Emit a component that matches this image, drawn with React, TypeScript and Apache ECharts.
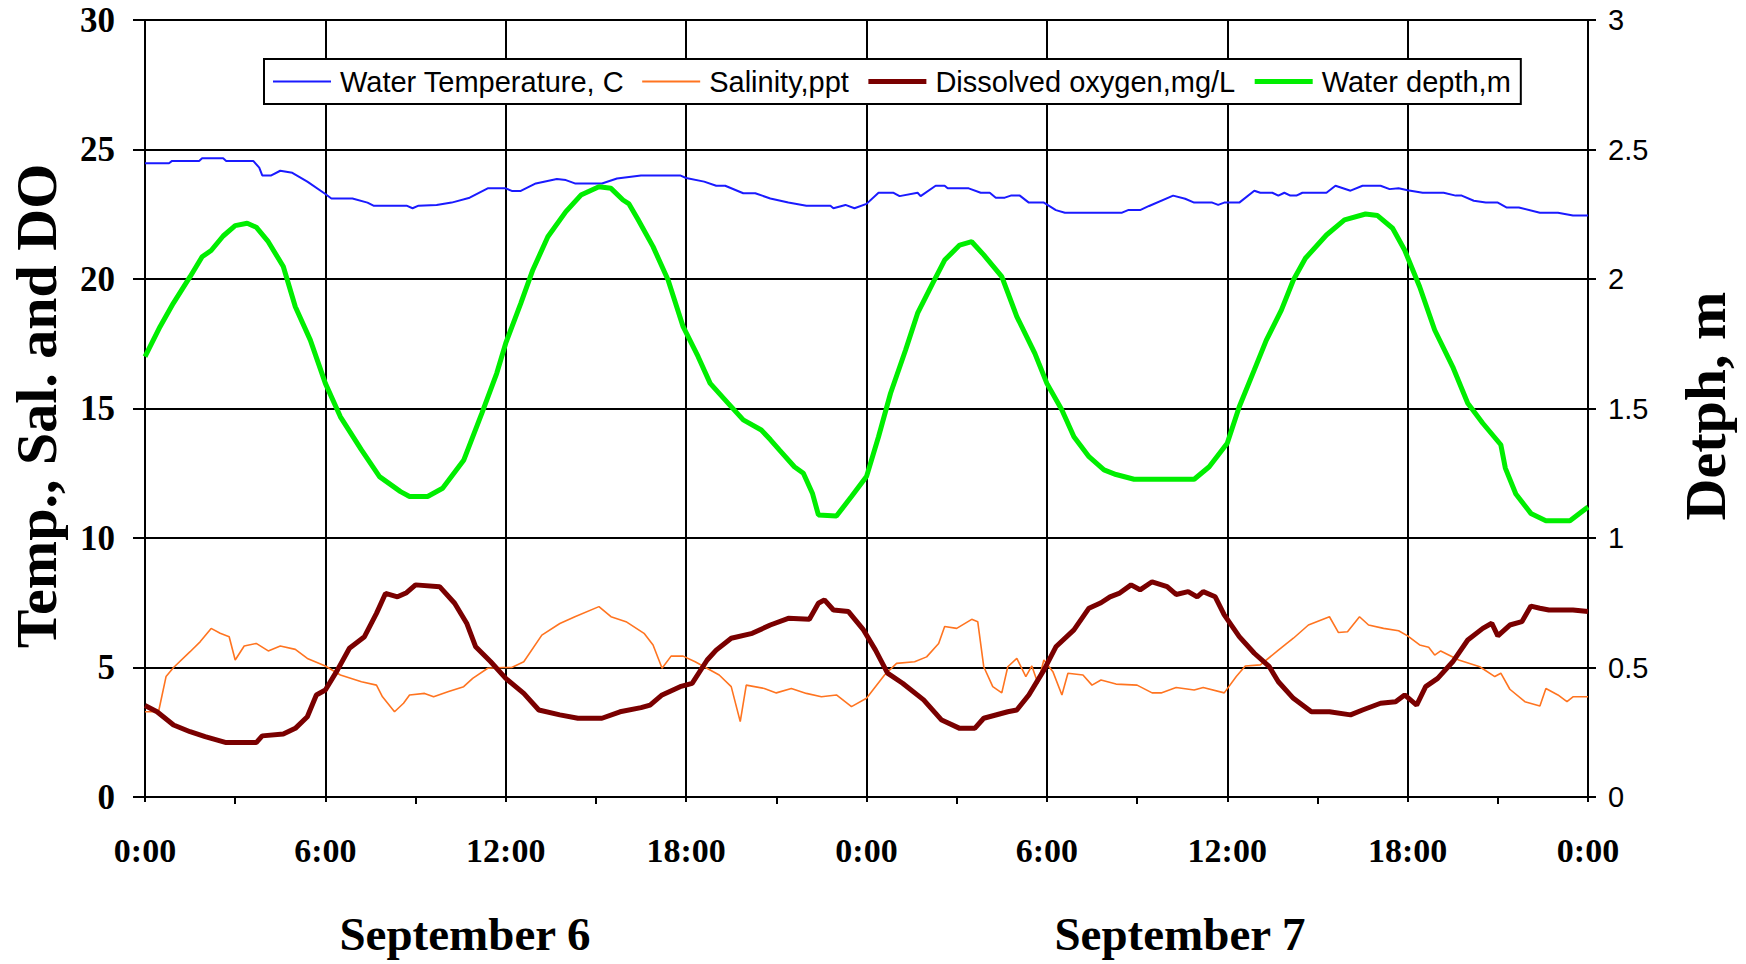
import React, { useEffect, useRef } from "react";
import * as echarts from "echarts";

const tempData: number[][] = [[0,24.47],[0.8,24.47],[0.9,24.56],[1.8,24.56],[1.9,24.66],[2.6,24.66],[2.7,24.56],[3.6,24.56],[3.8,24.3],[3.9,24.0],[4.2,24.0],[4.5,24.18],[4.9,24.1],[5.4,23.76],[6.0,23.28],[6.2,23.11],[6.9,23.11],[7.4,22.95],[7.6,22.83],[8.7,22.83],[8.9,22.73],[9.1,22.83],[9.7,22.86],[10.2,22.95],[10.8,23.14],[11.4,23.5],[12.0,23.5],[12.2,23.4],[12.5,23.4],[13.0,23.69],[13.7,23.86],[14.0,23.82],[14.3,23.69],[15.2,23.69],[15.7,23.88],[16.5,24.0],[17.8,24.0],[18.0,23.9],[18.6,23.76],[19.0,23.6],[19.3,23.6],[19.9,23.31],[20.3,23.31],[20.8,23.11],[21.4,22.95],[22.0,22.83],[22.8,22.83],[22.9,22.73],[23.3,22.86],[23.6,22.73],[24.0,22.9],[24.4,23.33],[24.9,23.33],[25.1,23.2],[25.7,23.33],[25.8,23.2],[26.3,23.6],[26.6,23.6],[26.7,23.5],[27.4,23.5],[27.8,23.33],[28.1,23.33],[28.3,23.14],[28.6,23.14],[28.8,23.22],[29.1,23.22],[29.4,22.95],[29.9,22.95],[30.3,22.66],[30.6,22.56],[32.5,22.56],[32.7,22.66],[33.1,22.66],[33.4,22.82],[34.2,23.22],[34.6,23.1],[34.9,22.95],[35.5,22.95],[35.7,22.86],[35.9,22.95],[36.4,22.95],[36.9,23.41],[37.1,23.33],[37.5,23.33],[37.7,23.22],[37.9,23.33],[38.1,23.22],[38.3,23.22],[38.5,23.33],[39.3,23.33],[39.6,23.6],[40.1,23.41],[40.5,23.6],[41.1,23.6],[41.4,23.47],[41.7,23.5],[42.0,23.43],[42.5,23.33],[43.2,23.33],[43.6,23.22],[43.8,23.22],[44.2,23.02],[44.6,22.95],[45.0,22.95],[45.3,22.76],[45.7,22.76],[46.4,22.56],[47.0,22.56],[47.5,22.45],[48,22.45]];

const salinityData: number[][] = [[0,3.29],[0.45,3.29],[0.7,4.65],[0.95,5.0],[1.5,5.61],[1.84,6.0],[2.2,6.51],[2.5,6.32],[2.8,6.19],[3.0,5.29],[3.3,5.83],[3.7,5.93],[4.1,5.64],[4.5,5.83],[5.0,5.7],[5.4,5.35],[6.0,5.06],[6.5,4.71],[7.2,4.45],[7.7,4.32],[7.9,3.87],[8.3,3.29],[8.6,3.62],[8.8,3.94],[9.3,4.0],[9.6,3.87],[10.1,4.07],[10.6,4.26],[10.9,4.58],[11.4,4.97],[11.9,5.0],[12.2,5.0],[12.6,5.22],[13.2,6.25],[13.8,6.7],[14.3,6.96],[15.1,7.35],[15.5,6.96],[16.0,6.77],[16.6,6.32],[16.9,5.87],[17.2,4.97],[17.5,5.44],[17.9,5.44],[18.3,5.22],[19.1,4.71],[19.5,4.26],[19.8,2.91],[20.0,4.32],[20.6,4.19],[21.0,4.02],[21.5,4.19],[22.0,4.0],[22.5,3.87],[23.0,3.94],[23.5,3.49],[24.0,3.81],[24.6,4.71],[25.0,5.16],[25.6,5.22],[26.0,5.41],[26.4,5.93],[26.6,6.58],[27.0,6.51],[27.5,6.86],[27.7,6.77],[27.9,5.03],[28.2,4.26],[28.5,4.02],[28.7,5.03],[29.0,5.35],[29.3,4.65],[29.5,5.06],[29.7,4.39],[29.9,5.29],[30.2,4.84],[30.5,3.94],[30.7,4.78],[31.2,4.71],[31.5,4.32],[31.8,4.52],[32.3,4.36],[33.0,4.32],[33.5,4.02],[33.8,4.02],[34.3,4.23],[34.9,4.13],[35.2,4.23],[35.9,4.02],[36.3,4.65],[36.6,5.06],[37.1,5.1],[37.7,5.67],[38.2,6.13],[38.7,6.64],[39.4,6.96],[39.7,6.35],[40.0,6.38],[40.4,6.96],[40.7,6.64],[41.2,6.51],[41.7,6.42],[42.0,6.22],[42.4,5.87],[42.7,5.78],[42.9,5.48],[43.1,5.64],[43.7,5.29],[44.4,5.03],[44.9,4.65],[45.1,4.78],[45.4,4.16],[45.9,3.68],[46.4,3.51],[46.6,4.19],[47.0,3.94],[47.3,3.68],[47.5,3.87],[48,3.87]];

const oxygenData: number[][] = [[0,3.53],[0.4,3.29],[0.95,2.78],[1.5,2.52],[2.0,2.33],[2.7,2.1],[3.7,2.1],[3.9,2.36],[4.6,2.43],[5.0,2.65],[5.4,3.1],[5.7,3.94],[6.0,4.13],[6.4,4.9],[6.8,5.74],[7.3,6.19],[7.7,7.09],[8.0,7.86],[8.4,7.73],[8.7,7.89],[9.0,8.19],[9.8,8.12],[10.3,7.48],[10.7,6.71],[11.0,5.8],[11.5,5.22],[12.0,4.58],[12.6,4.0],[13.1,3.36],[13.8,3.17],[14.4,3.04],[15.2,3.04],[15.8,3.29],[16.5,3.45],[16.8,3.55],[17.2,3.94],[17.8,4.26],[18.2,4.39],[18.7,5.29],[19.0,5.67],[19.5,6.13],[20.2,6.32],[20.8,6.64],[21.4,6.9],[22.1,6.86],[22.4,7.48],[22.6,7.61],[22.9,7.22],[23.4,7.16],[23.9,6.45],[24.3,5.67],[24.7,4.78],[25.2,4.39],[25.9,3.75],[26.5,2.97],[27.1,2.65],[27.6,2.65],[27.9,3.04],[28.7,3.29],[29.0,3.36],[29.4,3.94],[29.9,4.9],[30.3,5.8],[30.9,6.45],[31.4,7.29],[31.8,7.5],[32.1,7.73],[32.4,7.86],[32.8,8.19],[33.1,8.0],[33.5,8.31],[34.0,8.12],[34.3,7.82],[34.7,7.93],[35.0,7.73],[35.2,7.93],[35.6,7.73],[35.9,7.03],[36.4,6.19],[36.9,5.55],[37.4,5.03],[37.7,4.45],[38.2,3.81],[38.8,3.29],[39.4,3.29],[40.1,3.17],[40.5,3.36],[41.1,3.62],[41.6,3.68],[41.9,3.94],[42.3,3.55],[42.6,4.26],[43.0,4.58],[43.5,5.22],[44.0,6.06],[44.5,6.51],[44.8,6.71],[45.0,6.22],[45.4,6.64],[45.8,6.77],[46.1,7.37],[46.4,7.29],[46.7,7.22],[47.5,7.22],[48,7.16]];

const depthData: number[][] = [[0,1.70],[0.5,1.816],[0.94,1.906],[1.5,2.009],[1.9,2.086],[2.2,2.11],[2.6,2.166],[3.0,2.206],[3.4,2.215],[3.7,2.20],[4.1,2.144],[4.6,2.048],[5.0,1.893],[5.5,1.764],[6.0,1.597],[6.5,1.468],[7.2,1.34],[7.8,1.237],[8.5,1.179],[8.8,1.16],[9.4,1.16],[9.9,1.192],[10.6,1.30],[11.2,1.48],[11.7,1.636],[12.0,1.752],[12.5,1.906],[12.9,2.035],[13.4,2.163],[14.0,2.26],[14.5,2.324],[15.1,2.356],[15.5,2.35],[15.9,2.305],[16.1,2.29],[16.4,2.23],[16.9,2.125],[17.4,1.996],[17.9,1.816],[18.4,1.70],[18.8,1.597],[19.4,1.52],[19.9,1.456],[20.5,1.417],[20.8,1.38],[21.1,1.34],[21.6,1.275],[21.9,1.25],[22.2,1.173],[22.4,1.089],[23.0,1.085],[23.5,1.16],[24.0,1.237],[24.4,1.391],[24.8,1.559],[25.3,1.726],[25.7,1.868],[26.2,1.983],[26.6,2.073],[27.1,2.131],[27.5,2.144],[27.9,2.093],[28.5,2.009],[29.0,1.855],[29.6,1.713],[30.0,1.597],[30.5,1.494],[30.9,1.391],[31.4,1.314],[31.9,1.263],[32.3,1.245],[32.9,1.227],[34.9,1.227],[35.4,1.275],[36.0,1.366],[36.4,1.507],[36.9,1.649],[37.3,1.764],[37.8,1.880],[38.2,1.996],[38.6,2.08],[39.3,2.17],[39.9,2.228],[40.6,2.251],[41.0,2.245],[41.5,2.196],[41.9,2.112],[42.4,1.97],[42.9,1.803],[43.5,1.661],[44.0,1.52],[44.5,1.443],[45.1,1.36],[45.25,1.27],[45.6,1.17],[46.1,1.095],[46.6,1.067],[47.4,1.067],[48,1.12]];

const seriesNames = ["Water Temperature, C", "Salinity,ppt", "Dissolved oxygen,mg/L", "Water depth,m"];
const dayLabels = ["September 6", "September 7"];
const leftTitle = "Temp., Sal. and DO";
const rightTitle = "Detph, m";

export default function App() {
  const ref = useRef<HTMLDivElement>(null);
  useEffect(() => {
    document.body.style.margin = "0";
    const chart = echarts.init(ref.current!, null, { renderer: "svg" });
    const serif = "'Liberation Serif', 'Times New Roman', serif";
    const sans = "'Liberation Sans', Arial, sans-serif";
    const black = "#000";
    const colors = ["#1a1aff", "#ff7420", "#7a0000", "#00ee00"];
    const widths = [2, 1.6, 5, 5];
    chart.setOption({
      animation: false,
      backgroundColor: "#fff",
      grid: { left: 145, right: 158, top: 20, bottom: 167, show: true, borderColor: "#999", borderWidth: 1 },
      legend: {
        left: 264,
        top: 59,
        padding: [8, 10, 8, 8],
        itemGap: 17,
        itemWidth: 58,
        itemHeight: 14,
        backgroundColor: "#fff",
        borderColor: black,
        borderWidth: 2,
        itemStyle: { opacity: 0 },
        textStyle: { fontFamily: sans, fontSize: 29, color: black, padding: [0, 0, 0, 4] },
        data: seriesNames.map((n, i) => ({ name: n, lineStyle: { color: colors[i], width: i >= 2 ? 5 : 2 } })),
      },
      xAxis: {
        type: "value",
        min: 0,
        max: 48,
        interval: 6,
        axisLine: { lineStyle: { color: black, width: 2 } },
        axisTick: { show: true, length: 5, lineStyle: { color: black, width: 2 } },
        minorTick: { show: true, splitNumber: 2, length: 7, lineStyle: { color: black, width: 2 } },
        splitLine: { show: true, lineStyle: { color: black, width: 2 } },
        axisLabel: {
          margin: 36,
          fontFamily: serif,
          fontWeight: "bold",
          fontSize: 34,
          color: black,
          formatter: (v: number) => `${v % 24}:00`,
        },
      },
      yAxis: [
        {
          type: "value",
          min: 0,
          max: 30,
          interval: 5,
          axisLine: { show: true, lineStyle: { color: black, width: 2 } },
          axisTick: { show: true, length: 12, lineStyle: { color: black, width: 2 } },
          splitLine: { show: true, lineStyle: { color: black, width: 2 } },
          axisLabel: { margin: 30, fontFamily: serif, fontWeight: "bold", fontSize: 35, color: black },
        },
        {
          type: "value",
          min: 0,
          max: 3,
          interval: 0.5,
          position: "right",
          axisLine: { show: true, lineStyle: { color: black, width: 2 } },
          axisTick: { show: true, length: 8, lineStyle: { color: black, width: 2 } },
          splitLine: { show: false },
          axisLabel: { margin: 20, fontFamily: sans, fontSize: 29, color: black },
        },
      ],
      series: [
        { name: seriesNames[0], type: "line", data: tempData, yAxisIndex: 0, symbol: "none", lineStyle: { color: colors[0], width: widths[0] }, itemStyle: { color: colors[0] } },
        { name: seriesNames[1], type: "line", data: salinityData, yAxisIndex: 0, symbol: "none", lineStyle: { color: colors[1], width: widths[1] }, itemStyle: { color: colors[1] } },
        { name: seriesNames[2], type: "line", data: oxygenData, yAxisIndex: 0, symbol: "none", lineStyle: { color: colors[2], width: widths[2] }, itemStyle: { color: colors[2] } },
        { name: seriesNames[3], type: "line", data: depthData, yAxisIndex: 1, symbol: "none", lineStyle: { color: colors[3], width: widths[3] }, itemStyle: { color: colors[3] } },
      ],
      graphic: [
        { type: "text", x: 36, y: 406, rotation: Math.PI / 2, style: { text: leftTitle, font: `bold 58px ${serif}`, fill: black, textAlign: "center", textVerticalAlign: "middle" } },
        { type: "text", x: 1705, y: 406, rotation: Math.PI / 2, style: { text: rightTitle, font: `bold 58px ${serif}`, fill: black, textAlign: "center", textVerticalAlign: "middle" } },
        { type: "text", x: 465, y: 934, style: { text: dayLabels[0], font: `bold 47px ${serif}`, fill: black, textAlign: "center", textVerticalAlign: "middle" } },
        { type: "text", x: 1180, y: 934, style: { text: dayLabels[1], font: `bold 47px ${serif}`, fill: black, textAlign: "center", textVerticalAlign: "middle" } },
      ],
    });
    return () => chart.dispose();
  }, []);
  return <div ref={ref} style={{ position: "fixed", left: 0, top: 0, width: 1746, height: 964 }} />;
}
